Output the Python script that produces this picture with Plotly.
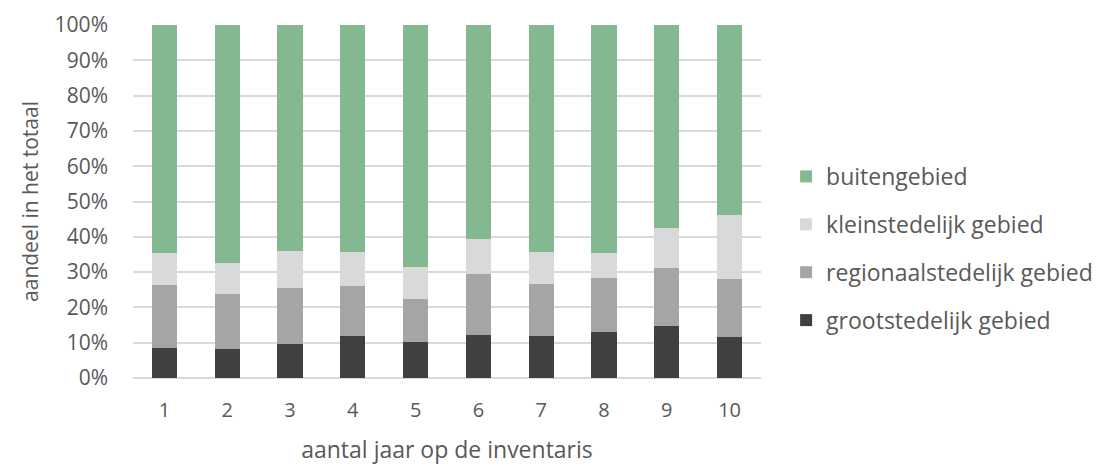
import plotly.graph_objects as go

# Number of years on the inventory
jaren = ["1", "2", "3", "4", "5", "6", "7", "8", "9", "10"]

# Share of the total per area type (percent)
grootstedelijk = [8.4, 8.1, 9.7, 12.0, 10.1, 12.3, 11.8, 13.1, 14.8, 11.5]
regionaalstedelijk = [17.9, 15.7, 15.7, 14.1, 12.3, 17.2, 14.9, 15.3, 16.5, 16.5]
kleinstedelijk = [9.1, 8.9, 10.6, 9.5, 9.0, 9.8, 9.0, 7.0, 11.2, 18.1]
buitengebied = [64.6, 67.3, 64.0, 64.4, 68.6, 60.7, 64.3, 64.6, 57.5, 53.9]

# (name, values, colour, legend rank)
series = [
    ("grootstedelijk gebied", grootstedelijk, "#404040", 4),
    ("regionaalstedelijk gebied", regionaalstedelijk, "#a5a5a5", 3),
    ("kleinstedelijk gebied", kleinstedelijk, "#d9d9d9", 2),
    ("buitengebied", buitengebied, "#83b890", 1),
]

FONT = "Open Sans"
TXT = "#595959"

fig = go.Figure()
for naam, waarden, kleur, rang in series:
    fig.add_trace(go.Bar(
        x=jaren, y=waarden, name=naam, legendgroup=naam, legendrank=rang,
        marker=dict(color=kleur, line=dict(width=0)),
        width=0.4,
    ))

fig.update_layout(
    barmode="stack",
    width=1104, height=465,
    margin=dict(l=133, r=343, t=25, b=87, autoexpand=False),
    plot_bgcolor="white", paper_bgcolor="white",
    font=dict(family=FONT, color=TXT, size=18),
    showlegend=True,
    legend=dict(
        traceorder="grouped", tracegroupgap=15,
        x=1.04, xanchor="left", y=0.367, yanchor="middle",
        font=dict(size=23, color=TXT),
    ),
    xaxis=dict(
        title=dict(text="aantal jaar op de inventaris", font=dict(size=23), standoff=20),
        tickfont=dict(size=20), showgrid=False, ticks="",
        showline=False, ticklabelstandoff=18, automargin=False,
    ),
    yaxis=dict(
        range=[0, 100], dtick=10, ticksuffix="%",
        title=dict(text="aandeel in het totaal", font=dict(size=21), standoff=10),
        tickfont=dict(size=21), ticklabelstandoff=24, automargin=False,
        showgrid=True, gridcolor="#d9d9d9", gridwidth=1.5,
        zeroline=True, zerolinecolor="#d9d9d9", zerolinewidth=1.5,
    ),
)

fig.write_html("out.html")
